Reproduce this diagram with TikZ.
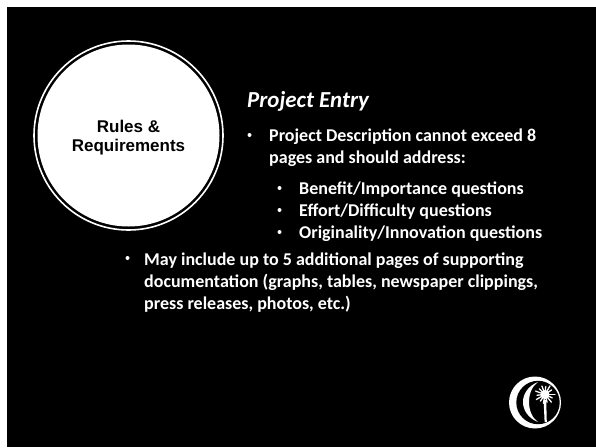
\documentclass[tikz,border=0pt]{standalone}
\usepackage{fontspec}
\setmainfont{Carlito}
\newfontfamily\arialf{Liberation Sans}
\begin{document}
\begin{tikzpicture}[x=1pt,y=-1pt,
  txt/.style={anchor=base west,inner sep=0pt,text=white,font=\fontsize{18}{18}\selectfont\bfseries},
  bul/.style={circle,fill=white,inner sep=0pt,minimum size=4pt}]
\useasboundingbox (0,0) rectangle (596,447);
\fill[white] (0,0) rectangle (596,447);
\fill[black] (7,7) rectangle (596,447);
\node[circle,draw=white,fill=black,line width=1.6pt,minimum size=189pt,inner sep=0pt] (ring) at (128.5,135.5) {};
\node[circle,fill=white,minimum size=182pt,inner sep=0pt] (disc) at (128.5,135.5) {};
\node[align=center,inner sep=0pt,text=black,font=\arialf\fontsize{17}{19.5}\selectfont\bfseries] (title) at (128.5,137.5) {Rules \&\\Requirements};
\node[txt,font=\fontsize{22.9}{22.9}\selectfont\bfseries\itshape] (entry) at (247,107) {Project Entry};
\node[bul] (b1) at (249.5,135) {};
\node[txt] (t1a) at (269,141) {Project Description cannot exceed 8};
\node[txt] (t1b) at (269,163) {pages and should address:};
\node[bul] (b2) at (279.5,188) {};
\node[txt] (t2) at (299,194) {Benefit/Importance questions};
\node[bul] (b3) at (279.5,210) {};
\node[txt] (t3) at (299,216) {Effort/Difficulty questions};
\node[bul] (b4) at (279.5,232) {};
\node[txt] (t4) at (299,238) {Originality/Innovation questions};
\node[bul] (b5) at (127.5,258) {};
\node[txt] (t5a) at (144,265) {May include up to 5 additional pages of supporting};
\node[txt] (t5b) at (144,287) {documentation (graphs, tables, newspaper clippings,};
\node[txt] (t5c) at (144,309) {press releases, photos, etc.)};
% logo
\fill[white] (535,402.5) circle (26);
\fill[black] (538,402.5) circle (21.7);
\fill[white] (538,382) .. controls (518,390) and (518,414) .. (538,422) .. controls (526,414) and (526,390) .. (538,382);
\fill[white] (543.6,400) -- (546.2,400) -- (546.8,422) -- (544.6,422) -- cycle;
\foreach \a/\r in {0/10,25/8,50/10,75/8,100/9,125/8,150/10,175/8,200/10,225/8,250/9,275/8,300/10,325/8}{\draw[white,line width=1.3pt,line cap=round] (545,394.5) -- ++(\a:\r);}
\fill[white] (545,394.5) circle (4.5);
\end{tikzpicture}
\end{document}
